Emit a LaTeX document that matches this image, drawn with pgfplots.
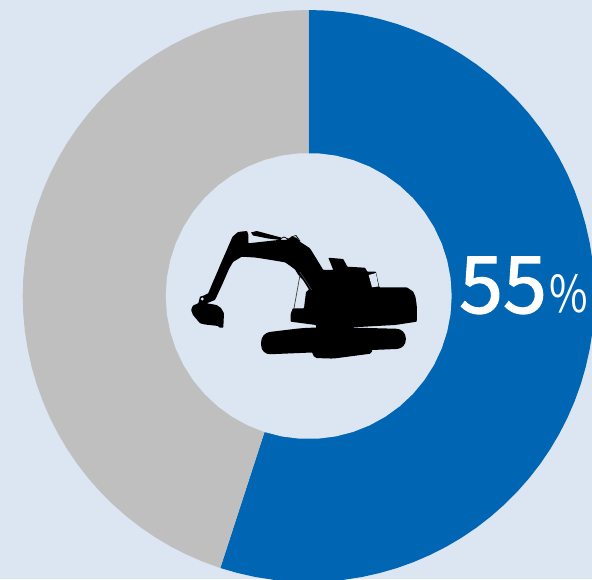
\documentclass[border=0pt]{standalone}
\usepackage{fontspec}
\usepackage{pgfplots}
\usepgfplotslibrary{polar}
\pgfplotsset{compat=1.18}
\newfontfamily\labelfont[FakeBold=1.6]{Noto Sans CJK JP}
\newfontfamily\unitfont{Noto Sans CJK JP}
\definecolor{panel}{HTML}{DCE6F2}
\definecolor{share}{HTML}{0066B3}
\definecolor{rest}{HTML}{BFBFBF}
\begin{document}
\begin{tikzpicture}
\useasboundingbox (0,0) rectangle (592pt,579pt);
\clip (0,0) rectangle (592pt,579pt);
\fill[panel] (0,0) rectangle (592pt,579pt);
\begin{polaraxis}[
  at={(308.7pt,283pt)}, anchor=center,
  scale only axis, width=572pt, height=572pt,
  xmin=0, xmax=360, ymin=0, ymax=286,
  hide axis, clip=false]
% 55 per cent, clockwise from twelve o'clock, one vertex per per cent
\addplot[fill=share, draw=none] coordinates {
  (0,0)(90,286)(86.4,286)(82.8,286)(79.2,286)(75.6,286)(72,286)(68.4,286)(64.8,286)(61.2,286)(57.6,286)
  (54,286)(50.4,286)(46.8,286)(43.2,286)(39.6,286)(36,286)(32.4,286)(28.8,286)(25.2,286)(21.6,286)
  (18,286)(14.4,286)(10.8,286)(7.2,286)(3.6,286)(0,286)
  (356.4,286)(352.8,286)(349.2,286)(345.6,286)(342,286)(338.4,286)(334.8,286)(331.2,286)(327.6,286)(324,286)
  (320.4,286)(316.8,286)(313.2,286)(309.6,286)(306,286)(302.4,286)(298.8,286)(295.2,286)(291.6,286)(288,286)
  (284.4,286)(280.8,286)(277.2,286)(273.6,286)(270,286)(266.4,286)(262.8,286)(259.2,286)(255.6,286)(252,286)};
% remaining 45 per cent
\addplot[fill=rest, draw=none] coordinates {
  (0,0)(252,286)(248.4,286)(244.8,286)(241.2,286)(237.6,286)(234,286)(230.4,286)(226.8,286)(223.2,286)(219.6,286)
  (216,286)(212.4,286)(208.8,286)(205.2,286)(201.6,286)(198,286)(194.4,286)(190.8,286)(187.2,286)(183.6,286)
  (180,286)(176.4,286)(172.8,286)(169.2,286)(165.6,286)(162,286)(158.4,286)(154.8,286)(151.2,286)(147.6,286)
  (144,286)(140.4,286)(136.8,286)(133.2,286)(129.6,286)(126,286)(122.4,286)(118.8,286)(115.2,286)(111.6,286)
  (108,286)(104.4,286)(100.8,286)(97.2,286)(93.6,286)(90,286)};
% centre hole
\addplot[fill=panel, draw=none] coordinates {
  (0,143)(7.2,143)(14.4,143)(21.6,143)(28.8,143)(36,143)(43.2,143)(50.4,143)(57.6,143)(64.8,143)
  (72,143)(79.2,143)(86.4,143)(93.6,143)(100.8,143)(108,143)(115.2,143)(122.4,143)(129.6,143)(136.8,143)
  (144,143)(151.2,143)(158.4,143)(165.6,143)(172.8,143)(180,143)(187.2,143)(194.4,143)(201.6,143)(208.8,143)
  (216,143)(223.2,143)(230.4,143)(237.6,143)(244.8,143)(252,143)(259.2,143)(266.4,143)(273.6,143)(280.8,143)
  (288,143)(295.2,143)(302.4,143)(309.6,143)(316.8,143)(324,143)(331.2,143)(338.4,143)(345.6,143)(352.8,143)};
\end{polaraxis}
% excavator silhouette, drawn in a top-left based unit system
\begin{scope}[shift={(0,579pt)}, x=1pt, y=-1pt]
% boom, arm, bucket and upper structure
\fill[black, rounded corners=0.7pt]
  (247,231)--(238,232)--(232.5,236.7)--(227.5,248.3)--(221.5,262)--(216,275)--(212.5,283)--(208.3,293.3)
  --(204,295.5)--(200,296.7)--(198.3,303.3)--(193,305.5)--(191,310)--(193,315)--(200,323.3)--(205,324.5)
  --(218.3,326)--(219,327.5)--(223.3,327.7)--(224,313.3)--(221,308)--(216.7,305)--(206.7,303.3)
  --(215,300)--(222,285)--(229,269)--(233,262)--(241.7,256.7)--(255,257.5)--(265,259)--(285,262.3)
  --(290,265.7)--(295,269.5)--(298.3,275)--(303,280)--(309,289.5)--(306,292)--(304,308.3)--(292.7,308.3)
  --(290.7,314)--(290.7,321.7)--(316,325)--(316,331)--(353,331)--(353.3,327.3)--(395,325)--(416.7,321.7)--(417,313)
  --(416.7,305)--(415.5,297)--(413.3,291.7)--(406.7,287.3)--(379.3,287.3)--(376,271.7)--(367.3,271.7)
  --(365,267.7)--(347.3,266.7)--(343.3,259)--(328.3,257.7)--(333.3,270)--(323.3,270)--(316,258)
  --(310,248.3)--(300,241.7)--(296.7,237.7)--(291.7,236.7)--(286,240)--(278.3,240)--(248.3,243.3)
  --(248.3,234.3)--cycle;
% crawler track
\fill[black, rounded corners=9pt]
  (305,327.7)--(261,333)--(261.3,354.6)--(406,348.6)--(405.6,329)--(353,327.6)--cycle;
\fill[black, rounded corners=2pt]
  (311,350)--(314.5,358)--(333.3,358.6)--(372,353.5)--(372,345)--(311,345)--cycle;
% hoist cylinder along the top of the boom
\fill[black] (251,232.5)--(256.7,231)--(281,237.5)--(281,240)--(268,238.5)--(253,235.5)--cycle;
\draw[black, line width=0.7pt] (278,240)--(284,237)--(290,240);
\draw[black, line width=0.7pt] (291,237)--(296,235.5)--(300,241);
% window of the cab
\fill[panel] (368.7,275)--(376,273)--(378.5,286.5)--(372,287.3)--cycle;
% pin hole on the arm
\fill[panel] (202.3,299) circle (1.6pt);
% struts beside the boom foot
\draw[black!75, line width=0.7pt] (300,275)--(294,308.3);
\draw[black!75, line width=0.7pt] (300,272)--(311.7,290);
\end{scope}
% value label
\node[anchor=base west, inner sep=0pt, text=white, font=\labelfont\fontsize{79pt}{79pt}\selectfont] at (459pt,266pt) {55};
\node[anchor=base west, inner sep=0pt, text=white, xscale=0.82, font=\unitfont\fontsize{51pt}{51pt}\selectfont] at (549pt,266pt) {\%};
\end{tikzpicture}
\end{document}
